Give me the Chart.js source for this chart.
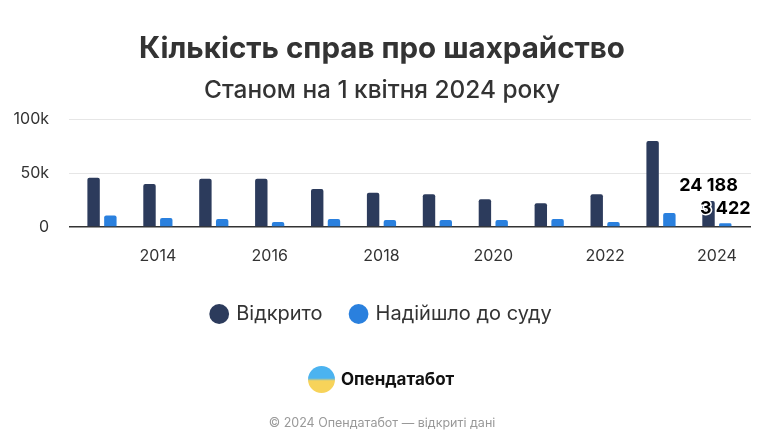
<!DOCTYPE html>
<html>
<head>
    <meta charset="utf-8">
    <title>Кількість справ про шахрайство</title>
    <script src="https://cdn.jsdelivr.net/npm/chart.js@4.4.0/dist/chart.umd.min.js"></script>
    <style>
        body { margin: 0; background: #fff; font-family: Inter, 'Noto Sans', sans-serif; }
        #wrap { position: relative; width: 764px; height: 446px; }
        #logo { position: absolute; left: 308px; top: 365px; height: 28px; display: flex; align-items: center; }
        #logo .icon { width: 27px; height: 27px; border-radius: 50%; background: linear-gradient(#4bb3f0 0 45%, #f7d35a 55% 100%); margin-right: 6px; }
        #logo span { font-weight: 700; font-size: 17px; color: #111; }
        #footer { position: absolute; left: 0; width: 764px; top: 415px; text-align: center; font-size: 12.5px; color: #999; }
    </style>
</head>
<body>
<div id="wrap">
    <canvas id="chartCanvas" width="764" height="446"></canvas>
    <div id="logo"><div class="icon"></div><span>Опендатабот</span></div>
    <div id="footer">© 2024 Опендатабот — відкриті дані</div>
</div>
<script>
    // Дані
    const years = [2013, 2014, 2015, 2016, 2017, 2018, 2019, 2020, 2021, 2022, 2023, 2024];
    const opened = [46000, 40100, 45000, 45000, 35500, 32000, 30500, 25900, 22200, 30500, 80200, 24188];
    const toCourt = [10800, 8300, 7400, 4600, 7400, 6500, 6500, 6500, 7400, 4600, 13000, 3422];
    const xTicks = [2014, 2016, 2018, 2020, 2022, 2024];
    const yTicks = [0, 50000, 100000];

    const fmt = v => v.toString().replace(/\B(?=(\d{3})+(?!\d))/g, ' ');

    // підписи для останнього року
    const lastLabels = {
        id: 'lastLabels',
        afterDatasetsDraw(chart) {
            const c = chart.ctx;
            c.save();
            c.font = 'bold 18px Inter, sans-serif';
            c.textAlign = 'center';
            c.textBaseline = 'middle';
            c.lineJoin = 'round';
            chart.data.datasets.forEach((ds, i) => {
                const bar = chart.getDatasetMeta(i).data[ds.data.length - 1];
                const txt = fmt(ds.data[ds.data.length - 1].y);
                c.strokeStyle = '#fff';
                c.lineWidth = 3;
                c.strokeText(txt, bar.x, bar.y - 15);
                c.fillStyle = '#000';
                c.fillText(txt, bar.x, bar.y - 15);
            });
            c.restore();
        }
    };

    const ctx = document.getElementById('chartCanvas').getContext('2d');
    const chart = new Chart(ctx, {
        type: 'bar',
        data: {
            datasets: [
                {
                    label: 'Відкрито',
                    data: years.map((y, i) => ({ x: y, y: opened[i] })),
                    backgroundColor: '#2c3b5c',
                    borderRadius: 2,
                    borderSkipped: 'bottom',
                },
                {
                    label: 'Надійшло до суду',
                    data: years.map((y, i) => ({ x: y, y: toCourt[i] })),
                    backgroundColor: '#2a80de',
                    borderRadius: 2,
                    borderSkipped: 'bottom',
                },
            ],
        },
        plugins: [lastLabels],
        options: {
            responsive: false,
            animation: false,
            layout: { padding: { left: 13, right: 13, top: 0, bottom: 112 } },
            datasets: { bar: { categoryPercentage: 0.6, barPercentage: 0.74 } },
            scales: {
                x: {
                    type: 'linear',
                    offset: false,
                    min: 2012.41,
                    max: 2024.61,
                    afterBuildTicks: axis => { axis.ticks = xTicks.map(v => ({ value: v })); },
                    afterFit: axis => { axis.height = 48; },
                    grid: { display: false, drawTicks: false },
                    border: { display: false },
                    ticks: { font: { size: 16, family: 'Inter' }, color: '#333', padding: 20, callback: v => String(v) },
                },
                y: {
                    min: 0,
                    max: 100000,
                    afterBuildTicks: axis => { axis.ticks = yTicks.map(v => ({ value: v })); },
                    afterFit: axis => { axis.width = 56; },
                    grid: {
                        drawTicks: false,
                        color: ctx => ctx.tick.value === 0 ? '#333' : '#e6e6e6',
                        lineWidth: ctx => ctx.tick.value === 0 ? 1.5 : 1,
                    },
                    border: { display: false },
                    ticks: {
                        font: { size: 16, family: 'Inter' }, color: '#333', padding: 20,
                        callback: v => v === 0 ? '0' : (v / 1000) + 'k',
                    },
                },
            },
            plugins: {
                title: {
                    display: true,
                    text: 'Кількість справ про шахрайство',
                    font: { size: 29.5, weight: 'bold', family: 'Inter' },
                    color: '#333',
                    padding: { top: 31, bottom: 10 },
                },
                subtitle: {
                    display: true,
                    text: 'Станом на 1 квітня 2024 року',
                    font: { size: 24.4, weight: 500, family: 'Inter' },
                    color: '#333',
                    padding: { bottom: 14 },
                },
                legend: {
                    position: 'bottom',
                    labels: {
                        usePointStyle: true,
                        pointStyle: 'circle',
                        boxWidth: 14,
                        boxHeight: 14,
                        padding: 29,
                        font: { size: 20, family: 'Inter' },
                        color: '#333',
                    },
                },
                tooltip: { enabled: false },
            },
        },
    });
</script>
</body>
</html>
